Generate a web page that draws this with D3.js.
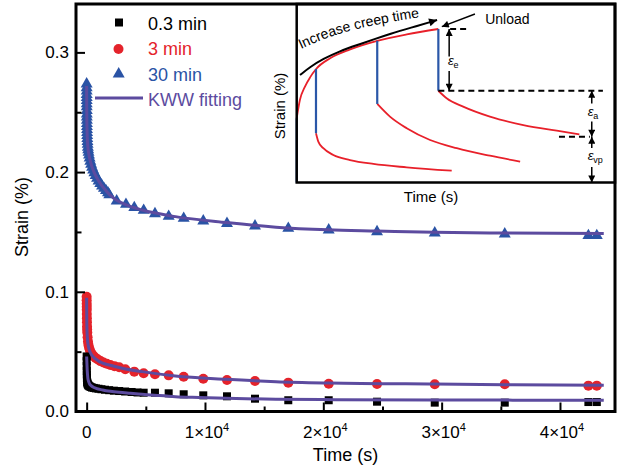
<!DOCTYPE html>
<html>
<head>
<meta charset="utf-8">
<script src="https://cdn.jsdelivr.net/npm/d3@7"></script>
<style>
  body { margin: 0; background: #fff; }
  svg { display: block; font-family: "Liberation Sans", Arial, sans-serif; }
</style>
</head>
<body>
<div id="chart"></div>
<script>
// ---- values (time in s, strain in %) ----
var time03 = [0,3,6,10,15,22,30,45,65,90,130,180,250,340,450,600,780,1000,1250,1550,1900,2300,2750,3250,3800,4300,4818,5773,6932,8200,9856,11860,14227,17040,20456,24539,29417,35334,42401,43111];
var strain03 = [0.046,0.042,0.038,0.034,0.031,0.028,0.026,0.0246,0.0236,0.0228,0.022,0.0215,0.021,0.0205,0.020,0.0197,0.0193,0.019,0.0186,0.0182,0.0178,0.0174,0.0171,0.0167,0.0163,0.0159,0.0157,0.0157,0.0152,0.0144,0.0135,0.0127,0.0107,0.0094,0.0094,0.0082,0.0074,0.0074,0.0079,0.0079];

var time3 = [0,2.5,5,7.5,10,15,20,27,35,45,55,80,110,150,200,270,360,470,600,760,950,1170,1420,1700,2000,2350,2750,3263,4024,4818,5773,6932,8200,9856,11860,14227,17040,20456,24539,29417,35334,42401,43111];
var strain3 = [0.0959,0.0930,0.090,0.0875,0.085,0.0815,0.078,0.0745,0.071,0.0685,0.066,0.062,0.0585,0.0558,0.0535,0.0513,0.0493,0.0476,0.0461,0.0447,0.0434,0.0421,0.0410,0.0399,0.0389,0.0379,0.0369,0.0353,0.0333,0.0319,0.0311,0.0302,0.0290,0.0274,0.0263,0.0255,0.0241,0.0232,0.0230,0.0227,0.0227,0.0216,0.0216];

var time30 = [0,1,2,3,4,5,6.5,8,10,12.5,15,18,22,26,31,37,45,55,68,84,105,130,160,200,250,310,380,460,550,650,760,880,1010,1150,1300,1460,1630,1800,1910,2536,3322,4024,4818,5773,6932,8200,9856,11860,14227,17040,20456,24539,29417,35334,42401,43111];
var strain30 = [0.2736,0.2705,0.2676,0.2648,0.2622,0.2597,0.2570,0.2545,0.2515,0.2485,0.2460,0.2433,0.2405,0.2380,0.2355,0.2330,0.2305,0.2280,0.2256,0.2232,0.2208,0.2186,0.2165,0.2142,0.2117,0.2091,0.2066,0.2041,0.2017,0.1994,0.1971,0.1948,0.1926,0.1905,0.1884,0.1864,0.1845,0.1826,0.1810,0.1759,0.1730,0.1703,0.1680,0.1652,0.1630,0.1613,0.1592,0.1571,0.1550,0.1530,0.1516,0.1502,0.1491,0.1483,0.1469,0.1469];

// KWW fitting curves
var fitTime03 = [0,20,50,100,170,250,380,507,800,1350,2000,2750,3700,4700,6000,7500,9500,11800,16000,21000,29400,36000,43700];
var fitStrain03 = [0.046,0.041,0.034,0.028,0.025,0.0230,0.0217,0.0207,0.0193,0.0180,0.0169,0.0160,0.0152,0.0144,0.0134,0.0124,0.0117,0.0110,0.0102,0.0099,0.0097,0.0095,0.0094];
var fitTime3 = [0,5,15,35,70,130,220,350,550,850,1300,2000,3000,4700,7500,11800,16000,20500,29400,36000,43700];
var fitStrain3 = [0.095,0.085,0.074,0.066,0.060,0.0555,0.0515,0.0485,0.0458,0.0432,0.0406,0.0386,0.0362,0.0333,0.0297,0.0269,0.0249,0.0238,0.0229,0.0224,0.0219];
var fitTime30 = [0,5,12,25,50,100,170,280,430,620,880,1220,1650,2300,3300,4700,7500,11800,16000,20400,24500,29400,35300,43700];
var fitStrain30 = [0.272,0.2595,0.249,0.2385,0.2293,0.2213,0.2158,0.2104,0.2050,0.2000,0.1948,0.1895,0.1843,0.1780,0.1728,0.1683,0.1628,0.1578,0.1540,0.1518,0.1508,0.1497,0.1491,0.1486];

var xMajor = [0, 10000, 20000, 30000, 40000];
var xMinor = [5000, 15000, 25000, 35000];
var yMajor = [0, 0.1, 0.2, 0.3];
var yMinor = [0.05, 0.15, 0.25];
var legendLabels = ["0.3 min", "3 min", "30 min", "KWW fitting"];

// ---- inset schematic (arbitrary units 0..100) ----
var creepT = [0, 1, 2.6, 4.2, 6.1, 10.5, 16.8, 25.3, 34.6, 44.5];
var creepS = [36, 46.2, 53.7, 58.9, 63.6, 69.6, 74.6, 79.4, 83, 86];
var unloadT = [0, 6.06, 25.3, 44.5];
var unloadTop = [36, 63.6, 79.4, 86];
var unloadBottom = [0, 27.6, 44.0, 51.4];
var recT1 = [6.06, 6.79, 8.36, 11.5, 16.75, 24.07, 34.56, 48.7];
var recS1 = [27.6, 22.9, 19.2, 15.4, 12.6, 10.4, 8.5, 6.6];
var recT2 = [25.32, 29.3, 34.56, 41.9, 50.3, 60.7, 70.2];
var recS2 = [44.0, 36.9, 30.4, 23.8, 19.2, 15.0, 11.7];
var recT3 = [44.49, 47.1, 52.3, 60.7, 71.2, 81.7, 88.8];
var recS3 = [51.4, 47.2, 42.5, 36.9, 32.2, 29.0, 27.0];
var arrowT = [1.04, 4.18, 8.26, 13.6, 19.0, 24.6, 29.3, 35.6, 44.1];
var arrowS = [60.2, 64.7, 69.2, 73.7, 77.0, 80.4, 83.2, 86.6, 91.0];
var labelPathT = [1.35, 10.46, 19.9, 29.3, 38.7, 48];
var labelPathS = [74.8, 82.1, 86.6, 89.9, 92.7, 94.8];

function pairs(a, b) { return a.map(function(v, i) { return [v, b[i]]; }); }

var W = 620, H = 469;
var frame = {left: 76, right: 615, top: 4, bottom: 411.5};
var red = "#e4232b", blue = "#2a53a5", purple = "#5c4b9f";

var svg = d3.select("#chart").append("svg")
    .attr("width", W)
    .attr("height", H);

var x = d3.scaleLinear().domain([-900, 44650]).range([frame.left, frame.right]);
var y = d3.scaleLinear().domain([0, 0.34]).range([frame.bottom, 4.5]);

// markers: arrowheads
var defs = svg.append("defs");
function arrowMarker(id, w, h) {
  defs.append("marker")
      .attr("id", id)
      .attr("viewBox", "0 0 10 10")
      .attr("refX", 10).attr("refY", 5)
      .attr("markerWidth", w).attr("markerHeight", h)
      .attr("markerUnits", "userSpaceOnUse")
      .attr("orient", "auto")
    .append("path")
      .attr("d", "M0,0L10,5L0,10z")
      .attr("fill", "#000");
}
arrowMarker("ah", 8, 7);
arrowMarker("ahBig", 15, 8);

// ---- main data ----
svg.append("g").selectAll("circle")
    .data(pairs(time3, strain3)).enter().append("circle")
    .attr("cx", function(d) { return x(d[0]); })
    .attr("cy", function(d) { return y(d[1]); })
    .attr("r", 5)
    .attr("fill", red);

svg.append("g").selectAll("rect")
    .data(pairs(time03, strain03)).enter().append("rect")
    .attr("x", function(d) { return x(d[0]) - 4; })
    .attr("y", function(d) { return y(d[1]) - 4; })
    .attr("width", 8).attr("height", 8)
    .attr("fill", "#000");

var tri = d3.symbol().type(d3.symbolTriangle).size(62);
svg.append("g").selectAll("path")
    .data(pairs(time30, strain30)).enter().append("path")
    .attr("d", tri)
    .attr("transform", function(d) { return "translate(" + x(d[0]) + "," + y(d[1]) + ")"; })
    .attr("fill", blue);

// fitting lines on top
var fitLine = d3.line()
    .x(function(d) { return x(d[0]); })
    .y(function(d) { return y(d[1]); })
    .curve(d3.curveMonotoneX);

[pairs(fitTime03, fitStrain03), pairs(fitTime3, fitStrain3), pairs(fitTime30, fitStrain30)].forEach(function(f) {
  svg.append("path")
      .attr("d", fitLine(f))
      .attr("fill", "none")
      .attr("stroke", purple)
      .attr("stroke-width", 3);
});

// ---- axes (ticks pointing in) ----
function styleAxis(g) {
  g.select(".domain").remove();
  g.selectAll(".tick line").attr("stroke", "#000").attr("stroke-width", 2);
  g.attr("font-family", "Liberation Sans, Arial, sans-serif").attr("font-size", 17);
  g.selectAll(".tick text").attr("fill", "#000");
}

svg.append("g")
    .attr("transform", "translate(0," + frame.bottom + ")")
    .call(d3.axisBottom(x).tickValues(xMajor).tickSize(-9).tickFormat(""))
    .call(styleAxis);
svg.append("g")
    .attr("transform", "translate(0," + frame.bottom + ")")
    .call(d3.axisBottom(x).tickValues(xMinor).tickSize(-5).tickFormat(""))
    .call(styleAxis);

svg.append("g")
    .attr("transform", "translate(" + frame.left + ",0)")
    .call(d3.axisLeft(y).tickValues(yMajor).tickSize(-9).tickPadding(7).tickFormat(d3.format(".1f")))
    .call(styleAxis);
svg.append("g")
    .attr("transform", "translate(" + frame.left + ",0)")
    .call(d3.axisLeft(y).tickValues(yMinor).tickSize(-5.5).tickFormat(""))
    .call(styleAxis);

// x tick labels with 10^4
svg.append("g").selectAll("text")
    .data(xMajor).enter().append("text")
    .attr("x", function(d) { return x(d) + (d === 0 ? 0 : 2); })
    .attr("y", 438)
    .attr("text-anchor", "middle")
    .attr("font-size", 17)
    .each(function(d) {
      var t = d3.select(this);
      if (d === 0) { t.text("0"); return; }
      t.append("tspan").text((d / 10000) + "\u00d710");
      t.append("tspan").attr("dy", -7).attr("font-size", 11).text("4");
    });

svg.append("text")
    .attr("x", (frame.left + frame.right) / 2)
    .attr("y", 461)
    .attr("text-anchor", "middle")
    .attr("font-size", 18)
    .text("Time (s)");

svg.append("text")
    .attr("transform", "translate(28,217) rotate(-90)")
    .attr("text-anchor", "middle")
    .attr("font-size", 18)
    .text("Strain (%)");

// ---- legend ----
var lg = svg.append("g");
lg.append("rect").attr("x", 115).attr("y", 18.5).attr("width", 8).attr("height", 8).attr("fill", "#000");
lg.append("circle").attr("cx", 118.5).attr("cy", 49).attr("r", 5).attr("fill", red);
lg.append("path").attr("d", tri).attr("transform", "translate(118.7,74)").attr("fill", blue);
lg.append("line").attr("x1", 95).attr("x2", 143).attr("y1", 98).attr("y2", 98)
    .attr("stroke", purple).attr("stroke-width", 3);
var legendColors = ["#000", red, blue, purple];
var legendBase = [29.5, 55, 80.5, 105.5];
lg.selectAll("text").data(legendLabels).enter().append("text")
    .attr("x", 148)
    .attr("y", function(d, i) { return legendBase[i]; })
    .attr("font-size", 18)
    .attr("fill", function(d, i) { return legendColors[i]; })
    .text(function(d) { return d; });

// ---- inset ----
var ix = d3.scaleLinear().domain([0, 100]).range([296.7, 615]);
var iy = d3.scaleLinear().domain([0, 100]).range([182.5, 4]);
var inset = svg.append("g");

inset.append("rect")
    .attr("x", ix(0)).attr("y", iy(100))
    .attr("width", ix(100) - ix(0)).attr("height", iy(0) - iy(100))
    .attr("fill", "#fff");

var iline = d3.line()
    .x(function(d) { return ix(d[0]); })
    .y(function(d) { return iy(d[1]); })
    .curve(d3.curveMonotoneX);
var ilineB = d3.line()
    .x(function(d) { return ix(d[0]); })
    .y(function(d) { return iy(d[1]); })
    .curve(d3.curveBasis);

// creep + recovery curves
[pairs(creepT, creepS), pairs(recT1, recS1), pairs(recT2, recS2), pairs(recT3, recS3)].forEach(function(c) {
  inset.append("path")
      .attr("d", iline(c))
      .attr("fill", "none")
      .attr("stroke", "#e8202a")
      .attr("stroke-width", 1.8);
});

// elastic drops
inset.selectAll(".drop").data(unloadT).enter().append("line")
    .attr("x1", function(d) { return ix(d); })
    .attr("x2", function(d) { return ix(d); })
    .attr("y1", function(d, i) { return iy(unloadTop[i]); })
    .attr("y2", function(d, i) { return iy(unloadBottom[i]); })
    .attr("stroke", "#2a57a8")
    .attr("stroke-width", 2.2);

// "Increase creep time" arrow
inset.append("path")
    .attr("d", ilineB(pairs(arrowT, arrowS)))
    .attr("fill", "none")
    .attr("stroke", "#000")
    .attr("stroke-width", 2)
    .attr("marker-end", "url(#ahBig)");
defs.append("path")
    .attr("id", "creepLabel")
    .attr("d", ilineB(pairs(labelPathT, labelPathS)));
inset.append("text")
    .attr("font-size", 14)
    .append("textPath")
    .attr("href", "#creepLabel")
    .text("Increase creep time");

// Unload
inset.append("line")
    .attr("x1", ix(56)).attr("y1", iy(94.4))
    .attr("x2", ix(45.6)).attr("y2", iy(87.3))
    .attr("stroke", "#000").attr("stroke-width", 1.5)
    .attr("marker-end", "url(#ah)");
inset.append("text")
    .attr("x", ix(59.2)).attr("y", iy(88.8))
    .attr("font-size", 14)
    .text("Unload");

// dashed guides
var dashes = [[48.2, 54.4, 86], [44.5, 96.2, 51.4], [82.4, 92.1, 25.7]];
inset.selectAll(".dash").data(dashes).enter().append("line")
    .attr("x1", function(d) { return ix(d[0]); })
    .attr("x2", function(d) { return ix(d[1]); })
    .attr("y1", function(d) { return iy(d[2]); })
    .attr("y2", function(d) { return iy(d[2]); })
    .attr("stroke", "#000")
    .attr("stroke-width", 2)
    .attr("stroke-dasharray", "6,4");

// strain component arrows: [x, from, to]
var compArrows = [[47.9, 70.6, 86], [47.9, 62.5, 51.4], [92.7, 44.3, 51.4], [92.7, 34.2, 25.7], [92.7, 19.3, 25.7], [92.7, 8.7, 0]];
inset.selectAll(".comp").data(compArrows).enter().append("line")
    .attr("x1", function(d) { return ix(d[0]); })
    .attr("x2", function(d) { return ix(d[0]); })
    .attr("y1", function(d) { return iy(d[1]); })
    .attr("y2", function(d) { return iy(d[2]); })
    .attr("stroke", "#000")
    .attr("stroke-width", 1.5)
    .attr("marker-end", "url(#ah)");

var compLabels = [["e", 47.5, 65.8], ["a", 91.4, 37.3], ["vp", 91.4, 12.6]];
inset.selectAll(".clab").data(compLabels).enter().append("text")
    .attr("x", function(d) { return ix(d[1]); })
    .attr("y", function(d) { return iy(d[2]); })
    .attr("font-size", 13)
    .each(function(d) {
      var t = d3.select(this);
      t.append("tspan").attr("font-style", "italic").text("\u03b5");
      t.append("tspan").attr("dy", 3).attr("font-size", 9).text(d[0]);
    });

inset.append("rect")
    .attr("x", ix(0)).attr("y", iy(100))
    .attr("width", ix(100) - ix(0)).attr("height", iy(0) - iy(100))
    .attr("fill", "none")
    .attr("stroke", "#000")
    .attr("stroke-width", 2.5);

svg.append("text")
    .attr("transform", "translate(285,106) rotate(-90)")
    .attr("text-anchor", "middle")
    .attr("font-size", 15)
    .text("Strain (%)");
svg.append("text")
    .attr("x", 431).attr("y", 202)
    .attr("text-anchor", "middle")
    .attr("font-size", 15)
    .text("Time (s)");

// ---- frame ----
svg.append("rect")
    .attr("x", frame.left).attr("y", frame.top)
    .attr("width", frame.right - frame.left)
    .attr("height", frame.bottom - frame.top)
    .attr("fill", "none")
    .attr("stroke", "#000")
    .attr("stroke-width", 3);
</script>
</body>
</html>
